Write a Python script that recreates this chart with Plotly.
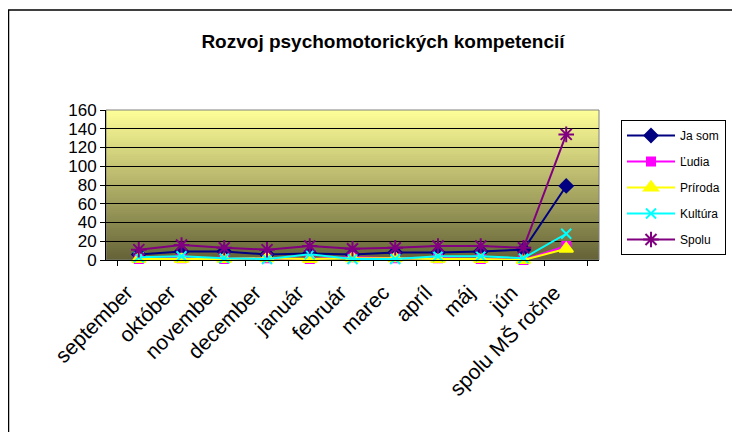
import plotly.graph_objects as go

months = ["september", "október", "november", "december", "január", "február",
          "marec", "apríl", "máj", "jún", "spolu MŠ ročne"]
ja_som = [6, 9, 9, 6, 7, 6, 8, 8, 9, 11, 79]
ludia = [1, 2, 1, 2, 1, 3, 2, 2, 1, 0, 15]
priroda = [1, 1, 1, 2, 1, 2, 2, 1, 1, 0, 12]
kultura = [3, 4, 2, 1, 6, 1, 1, 4, 4, 2, 28]
spolu = [11, 16, 13, 11, 15, 12, 13, 15, 15, 13, 134]

series = [
    ("Ja som", ja_som, "#000080", "diamond", 10),
    ("Ľudia", ludia, "#FF00FF", "square", 8),
    ("Príroda", priroda, "#FFFF00", "triangle-up", 12),
    ("Kultúra", kultura, "#00FFFF", "x-thin-open", 10),
    ("Spolu", spolu, "#800080", "asterisk-open", 13),
]

fig = go.Figure()
for i, (name, vals, col, sym, size) in enumerate(series):
    fig.add_trace(go.Scatter(
        x=months, y=vals, name=name, mode="lines+markers",
        line=dict(color=col, width=2),
        marker=dict(symbol=sym, size=size, color=col, line=dict(color=col, width=2)),
        cliponaxis=False, legendgroup=str(i),
    ))

# page has an 8px body margin, so the figure is laid out 8px up/left
W, H = 732, 424
pl, pr, pt, pb = 98, 591, 102, 252
pw, ph = pr - pl, pb - pt

# gradient plot background (light yellow -> dark olive)
shapes = []
n = 75
top = (255, 255, 153)
bot = (100, 98, 55)
for k in range(n):
    t = (k + 0.5) / n
    c = tuple(int(round(bot[j] + (top[j] - bot[j]) * t)) for j in range(3))
    shapes.append(dict(type="rect", xref="x domain", yref="y domain",
                       x0=0, x1=1, y0=k / n, y1=min(1, (k + 1.6) / n),
                       fillcolor="rgb(%d,%d,%d)" % c, line=dict(width=0), layer="below"))
# plot area border
shapes.append(dict(type="rect", xref="x domain", yref="y domain", x0=0, x1=1, y0=0, y1=1,
                   line=dict(color="#808080", width=1), layer="below"))
# chart outer border
shapes.append(dict(type="rect", xref="paper", yref="paper",
                   x0=(0.5 - pl) / pw, x1=(W + 20 - pl) / pw,
                   y0=(pb - H - 20) / ph, y1=(pb - 2) / ph,
                   line=dict(color="black", width=1.5)))

fig.update_layout(
    width=W, height=H,
    margin=dict(l=pl, r=W - pr, t=pt, b=H - pb, autoexpand=False),
    paper_bgcolor="white", plot_bgcolor="rgba(0,0,0,0)",
    font=dict(family="Liberation Sans, Arial, sans-serif", color="black", size=16),
    title=dict(text="<b>Rozvoj psychomotorických kompetencií</b>",
               x=(375 - pl) / pw, xref="paper", xanchor="center",
               y=1 - 33 / H, yanchor="middle", font=dict(size=19)),
    shapes=shapes,
    showlegend=True,
    legend=dict(x=(613 - pl) / pw, y=(pb - 112) / ph, xanchor="left", yanchor="top",
                bordercolor="black", borderwidth=1, bgcolor="white",
                font=dict(size=12), tracegroupgap=7, itemwidth=48),
    xaxis=dict(tickangle=-45, ticks="outside", ticklen=5, tickcolor="black",
               tickson="boundaries", showline=True, linecolor="black",
               showgrid=False, tickfont=dict(size=21), automargin=False,
               ticklabelstandoff=11, ticklabelshift=-12),
    yaxis=dict(range=[0, 160], dtick=20, ticks="outside", ticklen=5, tickcolor="black",
               showline=True, linecolor="black", showgrid=True, gridcolor="black",
               gridwidth=1, zeroline=False, tickfont=dict(size=17), automargin=False),
)

fig.write_html("out.html")
